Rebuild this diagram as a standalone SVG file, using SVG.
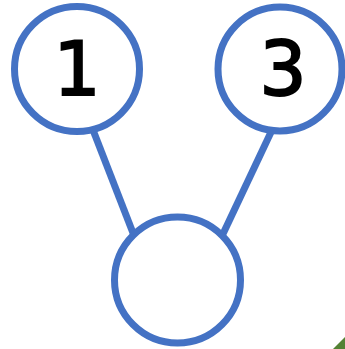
<svg xmlns="http://www.w3.org/2000/svg" width="345" height="349" viewBox="0 0 345 349">
<style>
.node{fill:#fff;stroke:#4472C4;stroke-width:7}
.edge{stroke:#4472C4;stroke-width:7;fill:none}
.lbl{font-family:"Comic Sans MS","DejaVu Sans",sans-serif;font-size:74px;fill:#000;stroke:#000;stroke-width:2;text-anchor:middle}
</style>
<rect width="345" height="349" fill="#fff"/>
<g id="connectors">
<line class="edge" x1="93" y1="130" x2="133" y2="233"/>
<line class="edge" x1="272" y1="130" x2="222" y2="236"/>
</g>
<g id="node1">
<circle class="node" cx="77" cy="69" r="62.5"/>
<text class="lbl" x="77" y="95">1</text>
</g>
<g id="node3">
<circle class="node" cx="280" cy="69" r="62"/>
<text class="lbl" x="283" y="95">3</text>
</g>
<g id="node2">
<circle class="node" cx="177.5" cy="280" r="63"/>
</g>
<polygon points="333,349 345,337 345,349" fill="#548235"/>
</svg>
